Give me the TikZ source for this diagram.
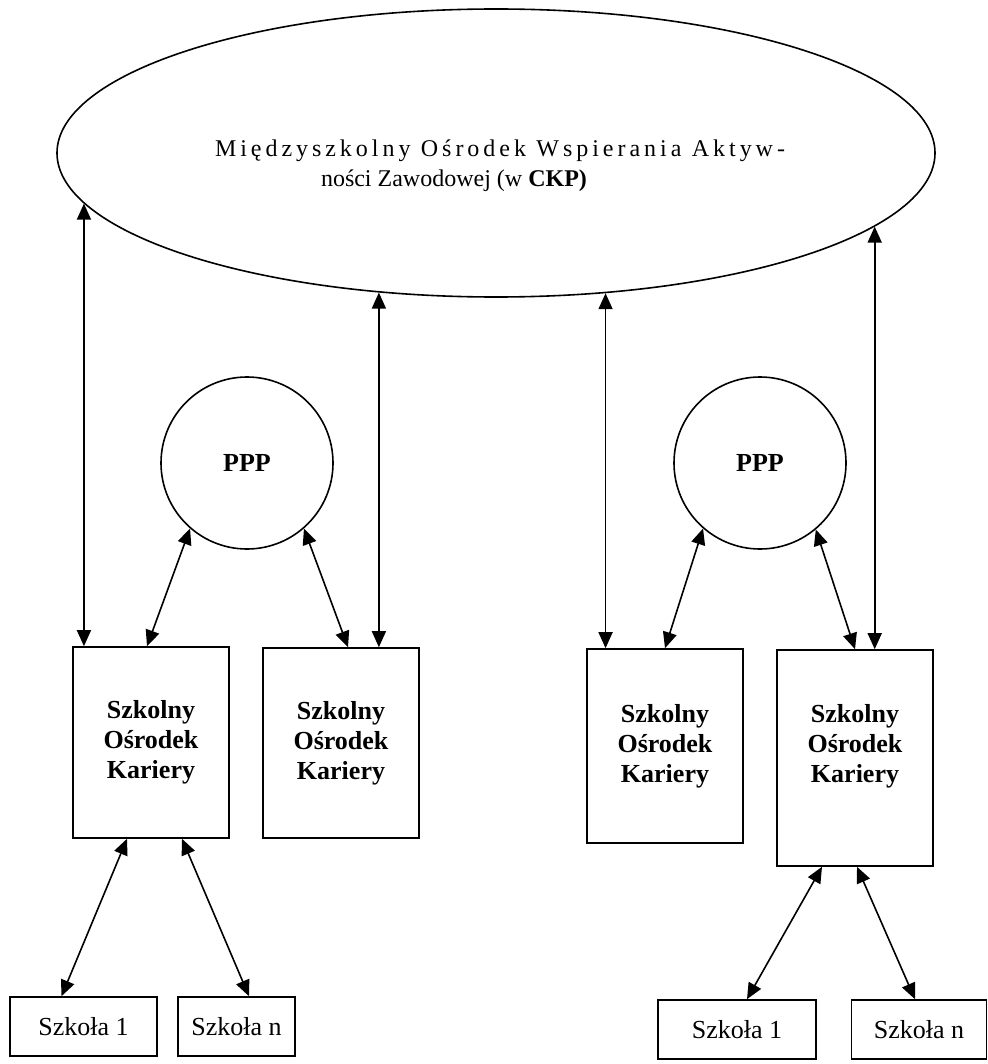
\documentclass[tikz,border=0pt]{standalone}
\usepackage{fontspec}
\setmainfont{Liberation Serif}
\newfontfamily\spreadfont[LetterSpace=16.5]{Liberation Serif}
\usetikzlibrary{shapes.geometric,arrows.meta}

\begin{document}
\begin{tikzpicture}[x=0.5pt, y=-0.5pt,
	conn/.style={<->, >={Triangle[length=8pt,width=7pt]}, line width=0.8pt},
	sktext/.style={align=center, font=\fontsize{13}{15}\selectfont\bfseries},
	skbox/.style={sktext, draw, line width=0.8pt, rectangle, minimum width=78pt, inner sep=0pt},
	szbox/.style={draw, line width=0.8pt, rectangle, minimum height=29.5pt, inner sep=0pt, font=\fontsize{13}{15}\selectfont},
	pppcirc/.style={draw, line width=0.8pt, circle, minimum size=86pt, inner sep=0pt, font=\fontsize{13}{15}\selectfont\bfseries}]

		\useasboundingbox (0, 0) rectangle (988, 1064);

		\node[ellipse, draw, line width=0.8pt, minimum width=439pt, minimum height=144pt, inner sep=0pt] at (496, 153) (msowaz) {};
		\node[align=left, inner sep=0pt, font=\fontsize{12}{15}\selectfont] at (500, 166) (msowaztxt) {\makebox[285pt][s]{\spreadfont Międzyszkolny Ośrodek Wspierania Aktyw-}\\\hspace*{53pt}ności Zawodowej (w \textbf{CKP)}};

		\node[pppcirc] at (247, 463) (ppp1) {PPP};
		\node[pppcirc] at (760, 463) (ppp2) {PPP};

		\node[skbox, minimum height=95.5pt] at (151, 742.5) (sok1) {Szkolny\\Ośrodek\\Kariery};
		\node[skbox, minimum height=95pt] at (341, 743) (sok2) {Szkolny\\Ośrodek\\Kariery};
		\node[skbox, minimum height=97pt] at (665, 746) (sok3) {Szkolny\\Ośrodek\\Kariery};
		\node[skbox, minimum height=108pt] at (855, 758) (sok4) {};
		\node[sktext] at (855, 746) (sok4txt) {Szkolny\\Ośrodek\\Kariery};

		\node[szbox, minimum width=73.5pt] at (83.5, 1026.5) (szkola1a) {Szkoła 1};
		\node[szbox, minimum width=58.5pt] at (236.5, 1026.5) (szkolana) {Szkoła n};
		\node[szbox, minimum width=79pt] at (737, 1029.5) (szkola1b) {Szkoła 1};
		\node[szbox, minimum width=67.5pt] at (919, 1029.5) (szkolanb) {Szkoła n};

		\draw[conn] (msowaz.187.93) -- (msowaz.187.93 |- sok1.north);
		\draw[conn] (msowaz.230.9) -- (msowaz.230.9 |- sok2.north);
		\draw[conn] (msowaz.308.55) -- (msowaz.308.55 |- sok3.north);
		\draw[conn] (msowaz.349.92) -- (msowaz.349.92 |- sok4.north);

		\draw[conn] (ppp1.229) -- ([xshift=-2pt]sok1.north);
		\draw[conn] (ppp1.311) -- ([xshift=3.5pt]sok2.north);
		\draw[conn] (ppp2.229) -- (sok3.north);
		\draw[conn] (ppp2.310) -- (sok4.north);

		\draw[conn] ([xshift=-12pt]sok1.south) -- ([xshift=-11pt]szkola1a.north);
		\draw[conn] ([xshift=15.5pt]sok1.south) -- ([xshift=6.25pt]szkolana.north);
		\draw[conn] ([xshift=-16.5pt]sok4.south) -- ([xshift=5pt]szkola1b.north);
		\draw[conn] ([xshift=1pt]sok4.south) -- ([xshift=-2pt]szkolanb.north);

	\end{tikzpicture}
\end{document}
